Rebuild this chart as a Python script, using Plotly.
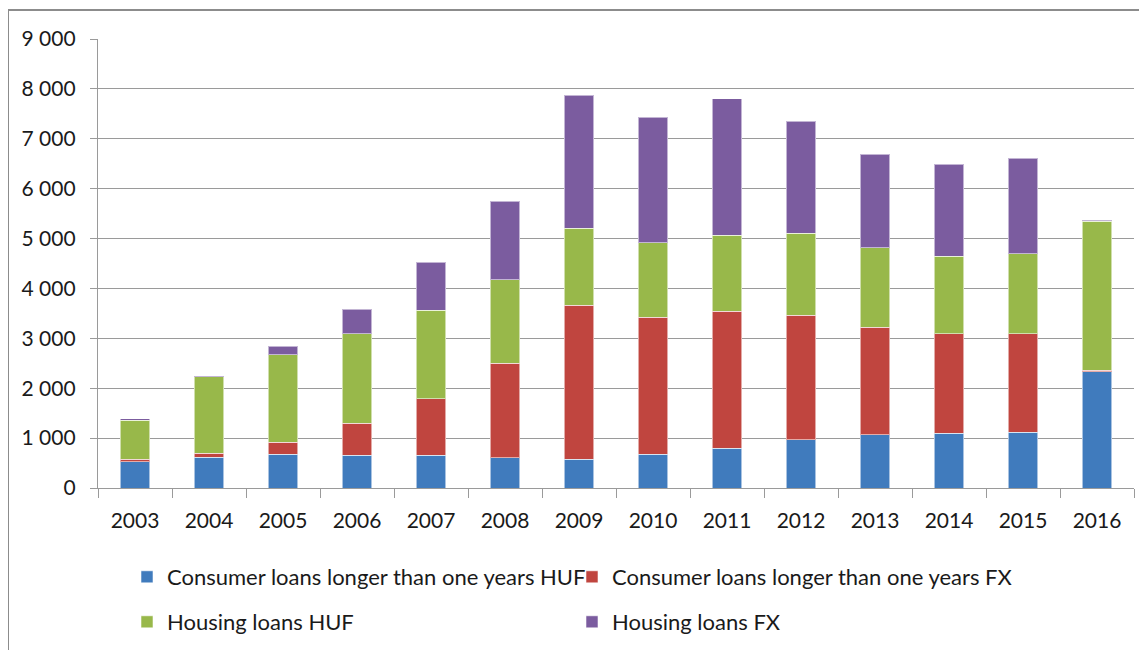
import plotly.graph_objects as go

years = ["2003", "2004", "2005", "2006", "2007", "2008", "2009",
         "2010", "2011", "2012", "2013", "2014", "2015", "2016"]

consumer_huf = [530, 620, 673, 653, 653, 607, 581, 673, 794, 968, 1068, 1102, 1122, 2331]
consumer_fx = [50, 80, 249, 642, 1137, 1898, 3086, 2746, 2745, 2499, 2152, 1990, 1970, 26]
housing_huf = [780, 1535, 1749, 1797, 1769, 1669, 1543, 1497, 1523, 1643, 1596, 1557, 1604, 2986]
housing_fx = [25, 20, 175, 495, 962, 1578, 2666, 2519, 2740, 2245, 1877, 1844, 1917, 20]

series_names = [
    "Consumer loans longer than one years HUF",
    "Consumer loans longer than one years FX",
    "Housing loans HUF",
    "Housing loans FX",
]
series_values = [consumer_huf, consumer_fx, housing_huf, housing_fx]
series_colors = ["#407BBD", "#C0453F", "#98B84A", "#7B5C9F"]
series_legends = ["legend", "legend2", "legend3", "legend4"]

y_ticks = [0, 1000, 2000, 3000, 4000, 5000, 6000, 7000, 8000, 9000]
y_tick_labels = ["0", "1 000", "2 000", "3 000", "4 000", "5 000",
                 "6 000", "7 000", "8 000", "9 000"]

FONT = "Lato, 'Open Sans', sans-serif"

fig = go.Figure()
for name, vals, col, lg in zip(series_names, series_values, series_colors, series_legends):
    fig.add_trace(go.Bar(
        x=years, y=vals, name=name, legend=lg,
        marker=dict(color=col, line=dict(color="rgba(255,255,255,0.55)", width=1)),
    ))

# page places the figure at an 8px offset (body margin)
OFF = 8
W, H = 1147 - OFF, 650 - OFF
L, T = 98 - OFF, 39 - OFF
R = W - (1134 - OFF)
B = H - (488 - OFF)
pw, ph = W - L - R, H - T - B

def px_x(p):
    return (p - OFF - L) / pw

def px_y(p):
    return (H - B - (p - OFF)) / ph

legend_common = dict(
    orientation="h", xanchor="left", yanchor="middle", traceorder="normal",
    font=dict(family=FONT, size=22, color="#1a1a1a"),
    bgcolor="rgba(0,0,0,0)", itemclick=False, itemdoubleclick=False,
    tracegroupgap=0,
)

col1_text, col2_text = 167, 612
row1_y, row2_y = 577, 622

fig.update_layout(
    width=W, height=H,
    margin=dict(l=L, r=R, t=T, b=B, pad=0, autoexpand=False),
    paper_bgcolor="white", plot_bgcolor="white",
    barmode="stack", bargap=0.6,
    showlegend=True,
    legend=dict(x=px_x(col1_text - 40), y=px_y(row1_y), **legend_common),
    legend2=dict(x=px_x(col2_text - 40), y=px_y(row1_y), **legend_common),
    legend3=dict(x=px_x(col1_text - 40), y=px_y(row2_y), **legend_common),
    legend4=dict(x=px_x(col2_text - 40), y=px_y(row2_y), **legend_common),
    font=dict(family=FONT, size=21, color="#1a1a1a"),
    xaxis=dict(
        type="category", showgrid=False, showline=True, linecolor="#9A9A9A", linewidth=1.3,
        ticks="outside", ticklen=9, tickcolor="#9A9A9A", tickwidth=1.3,
        tickson="boundaries", ticklabelstandoff=14, automargin=False,
        tickfont=dict(family=FONT, size=21, color="#1a1a1a"),
        fixedrange=True,
    ),
    yaxis=dict(
        range=[0, 9000], tickvals=y_ticks, ticktext=y_tick_labels,
        showgrid=True, gridcolor="#9A9A9A", gridwidth=1.4,
        showline=True, linecolor="#9A9A9A", linewidth=1.3,
        ticks="outside", ticklen=7, tickcolor="#9A9A9A", tickwidth=1.3,
        ticklabelstandoff=10, zeroline=False, automargin=False,
        tickfont=dict(family=FONT, size=21, color="#1a1a1a"),
        fixedrange=True,
    ),
    shapes=[
        dict(type="path", xref="paper", yref="paper",
             path=f"M {px_x(8)} {px_y(680)} L {px_x(8)} {px_y(10)} L {px_x(1180)} {px_y(10)}",
             line=dict(color="#8C8C8C", width=2)),
    ],
)

fig.write_html("out.html")
